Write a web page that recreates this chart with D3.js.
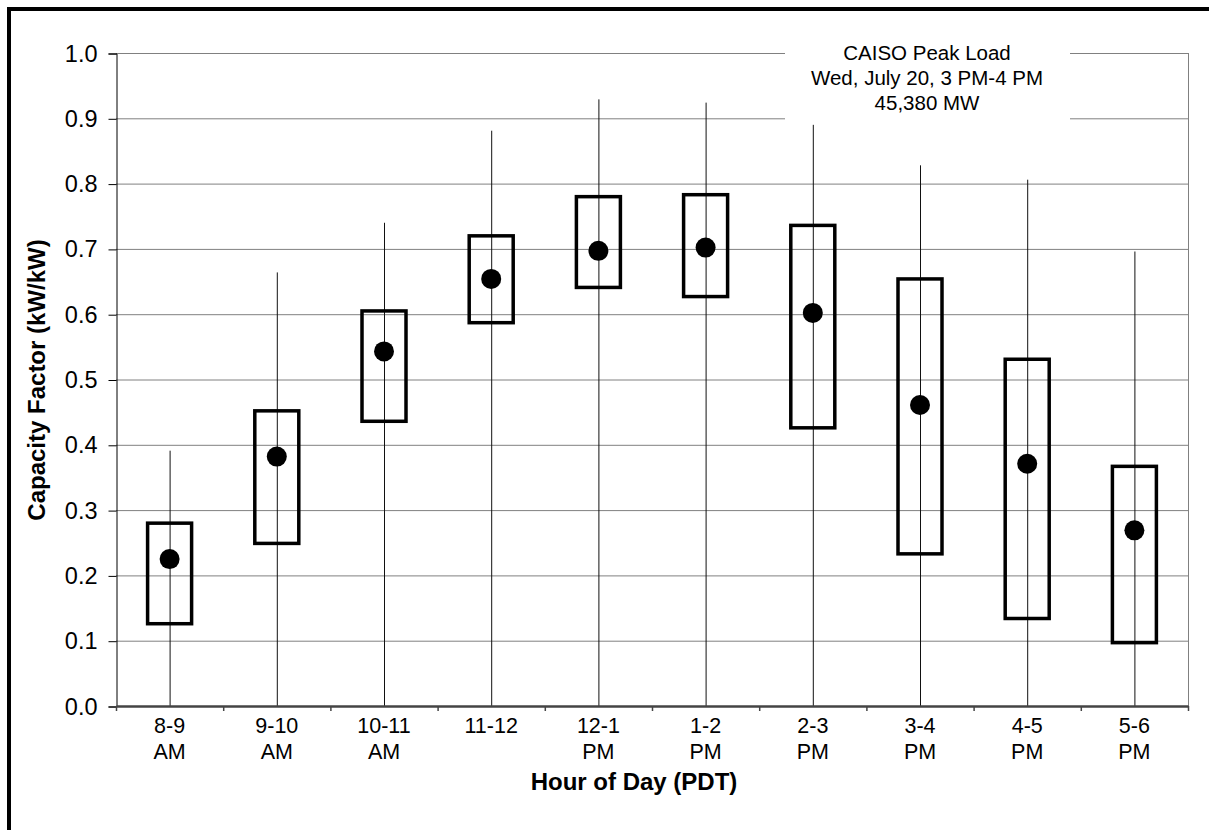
<!DOCTYPE html>
<html><head><meta charset="utf-8">
<script src="https://cdn.jsdelivr.net/npm/d3@7"></script>
<style>body{margin:0;background:#fff}svg{display:block;font-family:"Liberation Sans",Arial,sans-serif}</style>
</head><body><svg id="c" width="1209" height="830"></svg>
<script>
const categories = ["8-9|AM","9-10|AM","10-11|AM","11-12|","12-1|PM","1-2|PM","2-3|PM","3-4|PM","4-5|PM","5-6|PM"];
const whiskerMin = [0,0,0,0,0,0,0,0,0,0];
const whiskerMax = [0.391,0.664,0.740,0.881,0.929,0.924,0.890,0.828,0.806,0.696];
const boxLow  = [0.126,0.249,0.436,0.587,0.641,0.627,0.426,0.233,0.134,0.097];
const boxHigh = [0.280,0.452,0.605,0.720,0.780,0.783,0.736,0.654,0.531,0.367];
const means   = [0.225,0.382,0.543,0.654,0.697,0.702,0.602,0.461,0.371,0.269];
const yTicks = [0,0.1,0.2,0.3,0.4,0.5,0.6,0.7,0.8,0.9,1.0];
const noteLines = ["CAISO Peak Load","Wed, July 20, 3 PM-4 PM","45,380 MW"];

const svg = d3.select("#c");
svg.append("rect").attr("width",1209).attr("height",830).attr("fill","#fff");
svg.append("rect").attr("x",9).attr("y",9).attr("width",1240).attr("height",860)
  .attr("fill","none").attr("stroke","#000").attr("stroke-width",4);

const L=116,R=1188,T=53,B=706;
const x = d3.scaleBand().domain(categories).range([L,R]).padding(0);
const y = d3.scaleLinear().domain([0,1]).range([B,T]);

// gridlines
svg.append("g").selectAll("line").data(yTicks.filter(d=>d>0)).join("line")
  .attr("x1",L).attr("x2",R).attr("y1",d=>y(d)+0.5).attr("y2",d=>y(d)+0.5)
  .attr("stroke","#808080").attr("stroke-width",1);
svg.append("line").attr("x1",R+0.5).attr("x2",R+0.5).attr("y1",T).attr("y2",B)
  .attr("stroke","#808080");

// y axis
const yAxis = d3.axisLeft(y).tickValues(yTicks).tickFormat(d3.format(".1f")).tickSize(8).tickPadding(11);
const gy = svg.append("g").attr("transform",`translate(${L+0.5},0.5)`).call(yAxis);
gy.select(".domain").attr("stroke","#000");
gy.selectAll(".tick line").attr("stroke","#000");
gy.selectAll("text").attr("font-size",23.5).attr("fill","#000").attr("font-family","Liberation Sans, Arial, sans-serif");

// whiskers
const data = categories.map((c,i)=>({c,min:whiskerMin[i],max:whiskerMax[i],lo:boxLow[i],hi:boxHigh[i],m:means[i]}));
const cx = d=>x(d.c)+x.bandwidth()/2;
svg.append("g").selectAll("line").data(data).join("line")
  .attr("x1",d=>cx(d)+0.5).attr("x2",d=>cx(d)+0.5).attr("y1",d=>y(d.min)).attr("y2",d=>y(d.max))
  .attr("stroke","#111").attr("stroke-width",1);

// x axis
const xAxis = d3.axisBottom(x).tickSize(0).tickFormat("");
const gx = svg.append("g").attr("transform",`translate(0,${B})`).call(xAxis);
gx.select(".domain").attr("stroke","#444").attr("stroke-width",2.5);
const bounds = categories.map(c=>x(c)).concat([R]);
svg.append("g").selectAll("line").data(bounds).join("line")
  .attr("x1",d=>d+0.5).attr("x2",d=>d+0.5).attr("y1",B).attr("y2",B+5).attr("stroke","#444").attr("stroke-width",1.5);
const lab = svg.append("g").selectAll("text").data(categories).join("text")
  .attr("text-anchor","middle").attr("font-size",21.5).attr("fill","#000")
  .attr("transform",d=>`translate(${x(d)+x.bandwidth()/2},0)`);
lab.append("tspan").attr("x",0).attr("y",733).text(d=>d.split("|")[0]);
lab.append("tspan").attr("x",0).attr("y",759).text(d=>d.split("|")[1]);

// boxes
svg.append("g").selectAll("rect").data(data).join("rect")
  .attr("x",d=>cx(d)-22).attr("width",44).attr("y",d=>y(d.hi)).attr("height",d=>y(d.lo)-y(d.hi))
  .attr("fill","none").attr("stroke","#000").attr("stroke-width",3.5);
// means
svg.append("g").selectAll("circle").data(data).join("circle")
  .attr("cx",d=>cx(d)).attr("cy",d=>y(d.m)).attr("r",10).attr("fill","#000");

// annotation
svg.append("rect").attr("x",785).attr("y",42).attr("width",285).attr("height",80).attr("fill","#fff");
svg.append("g").selectAll("text").data(noteLines).join("text")
  .attr("x",927).attr("y",(d,i)=>60+i*25).attr("text-anchor","middle").attr("font-size",20.5).attr("fill","#000").text(d=>d);

// titles
svg.append("text").attr("x",634).attr("y",790).attr("text-anchor","middle").attr("font-size",24)
  .attr("font-weight","bold").text("Hour of Day (PDT)");
svg.append("text").attr("transform","translate(45,380) rotate(-90)").attr("text-anchor","middle")
  .attr("font-size",24).attr("font-weight","bold").text("Capacity Factor (kW/kW)");
</script></body></html>
